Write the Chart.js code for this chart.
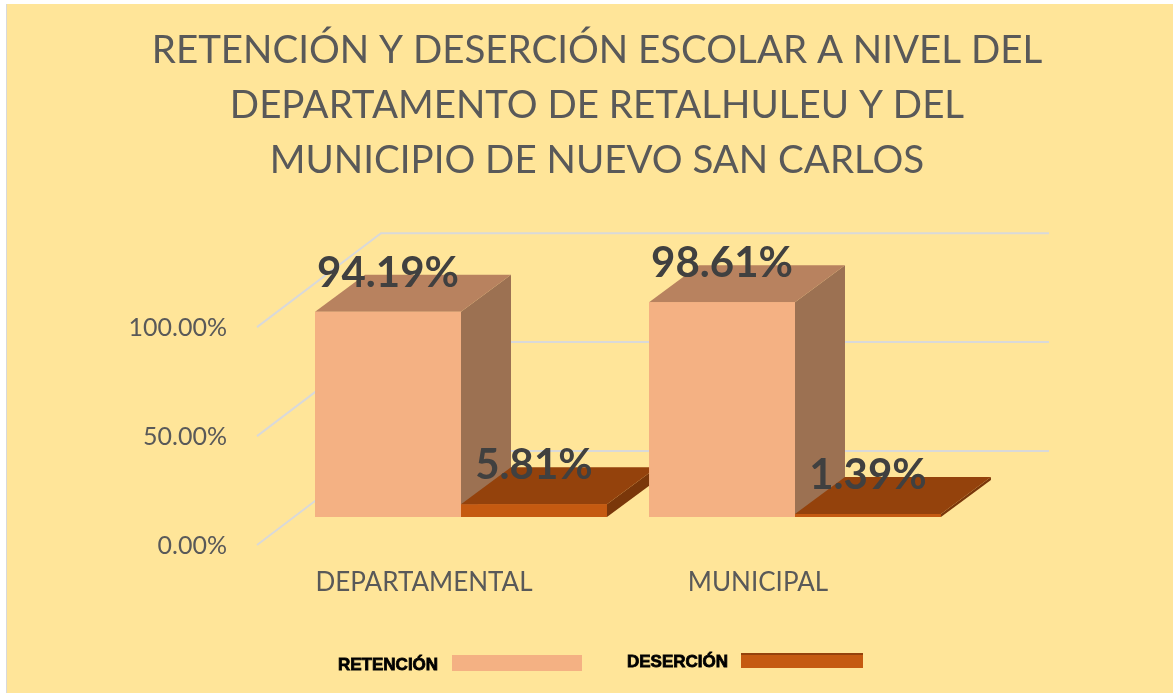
<!DOCTYPE html>
<html>
<head>
<meta charset="utf-8">
<script src="https://cdn.jsdelivr.net/npm/chart.js@4"></script>
<style>
  html, body { margin: 0; padding: 0; background: #fff; }
  #wrap { position: absolute; left: 6px; top: 4px; width: 1167px; height: 689px; border-left: 1px solid #d9d9d9; }
  #chart { display: block; background: #FFE599; }
</style>
</head>
<body>
<div id="wrap"><canvas id="chart" width="1166" height="689"></canvas></div>
<script>
const titleLines = [
    'RETENCIÓN Y DESERCIÓN ESCOLAR A NIVEL DEL',
    'DEPARTAMENTO DE RETALHULEU Y DEL',
    'MUNICIPIO DE NUEVO SAN CARLOS'
];
const categories = ['DEPARTAMENTAL', 'MUNICIPAL'];
const seriesNames = ['RETENCIÓN', 'DESERCIÓN'];
const retencion = [94.19, 98.61];
const desercion = [5.81, 1.39];
const yTicks = [0, 50, 100];

// front, top, side colours of each series
const faceColors = [
    ['#F4B183', '#B8825F', '#9C7152'],
    ['#C55A11', '#94420C', '#7A370A']
];

const DEPTH = { dx: 50, dy: -37 };   // bar depth
const FRONT = { dx: -37, dy: 28 };   // floor front edge vs bar plane
const BACK = { dx: 87, dy: -66 };    // back wall vs bar plane

function poly(ctx, pts, color) {
    ctx.beginPath();
    ctx.moveTo(pts[0][0], pts[0][1]);
    for (let i = 1; i < pts.length; i++) ctx.lineTo(pts[i][0], pts[i][1]);
    ctx.closePath();
    ctx.fillStyle = color;
    ctx.fill();
}

const excel3d = {
    id: 'excel3d',
    beforeDatasetsDraw(chart) {
        const ctx = chart.ctx;
        const { left, right, bottom } = chart.chartArea;
        const y = chart.scales.y;
        const x = chart.scales.x;
        ctx.save();
        // wall gridlines
        ctx.strokeStyle = '#D9D9D9';
        ctx.lineWidth = 2;
        y.ticks.forEach(t => {
            const py = y.getPixelForValue(t.value);
            ctx.beginPath();
            ctx.moveTo(left + FRONT.dx, py + FRONT.dy);
            ctx.lineTo(left + BACK.dx, py + BACK.dy);
            ctx.lineTo(right + BACK.dx, py + BACK.dy);
            ctx.stroke();
        });
        // tick labels
        ctx.fillStyle = '#595959';
        ctx.font = '25px Lato';
        ctx.textAlign = 'right';
        ctx.textBaseline = 'middle';
        y.ticks.forEach(t => {
            const py = y.getPixelForValue(t.value);
            ctx.fillText(t.value.toFixed(2) + '%', left + FRONT.dx - 30, py + FRONT.dy + 1);
        });
        // category labels
        ctx.font = '26px Lato';
        ctx.textAlign = 'center';
        categories.forEach((c, i) => {
            ctx.fillText(c, x.getPixelForValue(i) + FRONT.dx, bottom + FRONT.dy + 38);
        });
        ctx.restore();
    },
    afterDatasetsDraw(chart) {
        const ctx = chart.ctx;
        const bars = [];
        chart.data.datasets.forEach((ds, di) => {
            chart.getDatasetMeta(di).data.forEach((el, i) => {
                const p = el.getProps(['x', 'y', 'base', 'width'], true);
                bars.push({ ...p, di, value: ds.data[i] });
            });
        });
        bars.sort((a, b) => a.x - b.x);
        ctx.save();
        bars.forEach(b => {
            const [front, top, side] = faceColors[b.di];
            const l = b.x - b.width / 2, r = b.x + b.width / 2;
            poly(ctx, [[r, b.y], [r + DEPTH.dx, b.y + DEPTH.dy], [r + DEPTH.dx, b.base + DEPTH.dy], [r, b.base]], side);
            poly(ctx, [[l, b.y], [l + DEPTH.dx, b.y + DEPTH.dy], [r + DEPTH.dx, b.y + DEPTH.dy], [r, b.y]], top);
            poly(ctx, [[l, b.y], [r, b.y], [r, b.base], [l, b.base]], front);
        });
        // data labels
        ctx.fillStyle = '#404040';
        ctx.font = 'bold 42px Lato';
        ctx.textAlign = 'center';
        ctx.textBaseline = 'alphabetic';
        bars.forEach(b => {
            ctx.fillText(b.value.toFixed(2) + '%', b.x, b.y - 25);
        });
        ctx.restore();
    },
    afterDraw(chart) {
        const ctx = chart.ctx;
        const spots = [
            { tx: 331, ty: 666, bx: 445, by: 651, bw: 130, bh: 16 },
            { tx: 620, ty: 663, bx: 734, by: 649, bw: 122, bh: 15 }
        ];
        ctx.save();
        ctx.font = 'bold 17px "Liberation Sans"';
        ctx.textAlign = 'left';
        ctx.textBaseline = 'alphabetic';
        ctx.lineWidth = 0.8;
        ctx.strokeStyle = '#000';
        chart.data.datasets.forEach((ds, i) => {
            const s = spots[i];
            ctx.fillStyle = '#000';
            ctx.fillText(ds.label, s.tx, s.ty);
            ctx.strokeText(ds.label, s.tx, s.ty);
            ctx.fillStyle = faceColors[i][0];
            ctx.fillRect(s.bx, s.by, s.bw, s.bh);
            if (i === 1) {
                ctx.fillStyle = faceColors[i][1];
                ctx.fillRect(s.bx, s.by, s.bw, 2);
            }
        });
        ctx.restore();
    }
};

new Chart(document.getElementById('chart'), {
    type: 'bar',
    data: {
        labels: categories,
        datasets: [
            { label: seriesNames[0], data: retencion, backgroundColor: faceColors[0][0] },
            { label: seriesNames[1], data: desercion, backgroundColor: faceColors[1][0] }
        ]
    },
    options: {
        responsive: false,
        animation: false,
        devicePixelRatio: 1,
        datasets: { bar: { barPercentage: 1, categoryPercentage: 0.874 } },
        layout: { padding: { left: 14, right: 0, top: 0, bottom: 176 } },
        plugins: {
            legend: { display: false },
            tooltip: { enabled: false },
            title: {
                display: true,
                text: titleLines,
                color: '#595959',
                font: { family: 'Lato', size: 38.5, weight: 'normal', lineHeight: 1.43 },
                padding: { top: 19, bottom: 111 }
            }
        },
        scales: {
            x: { display: false },
            y: {
                min: 0, max: 100,
                ticks: { display: false, stepSize: 50 },
                grid: { display: false },
                border: { display: false },
                afterFit: s => { s.width = 273; }
            },
            yR: {
                type: 'linear', position: 'right',
                ticks: { display: false },
                grid: { display: false },
                border: { display: false },
                afterFit: s => { s.width = 211; }
            }
        }
    },
    plugins: [excel3d]
});
</script>
</body>
</html>
